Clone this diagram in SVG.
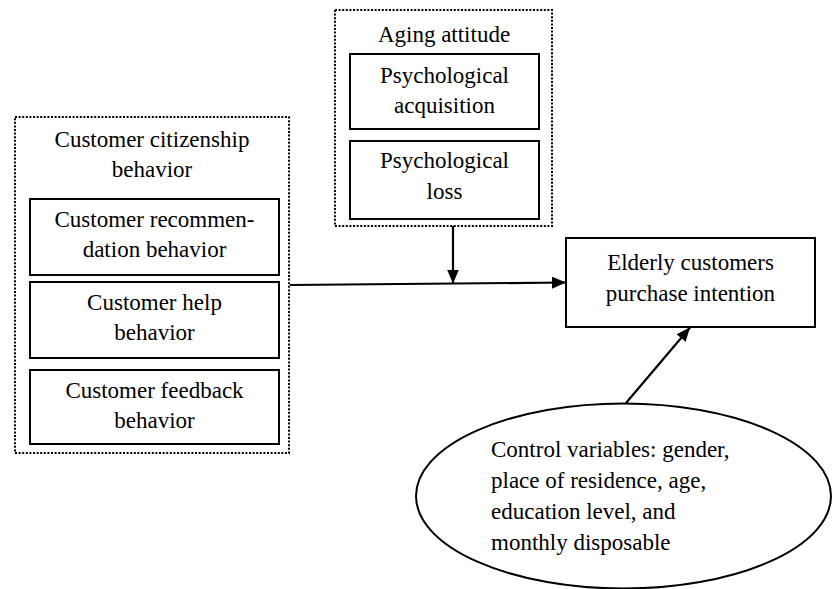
<svg xmlns="http://www.w3.org/2000/svg" width="832" height="589" viewBox="0 0 832 589">
<style>
text{font-family:"Liberation Serif","Times New Roman",serif;font-size:23px;fill:#000}
.c{text-anchor:middle}
.box{fill:#fff;stroke:#000;stroke-width:2}
.dot{fill:none;stroke:#000;stroke-width:2;stroke-dasharray:2 1.6}
.ln{stroke:#000;stroke-width:2.2;fill:none}
</style>
<defs>
<marker id="ah" viewBox="0 0 14 12" refX="14" refY="6" markerWidth="14" markerHeight="12" markerUnits="userSpaceOnUse" orient="auto">
<path d="M0,0 L14,6 L0,12 Z" fill="#000"/>
</marker>
</defs>
<rect width="832" height="589" fill="#fff"/>
<g id="ccb">
<rect class="dot" x="15" y="117" width="274" height="336"/>
<text class="c" x="152" y="147">Customer citizenship</text>
<text class="c" x="152" y="177">behavior</text>
</g>
<g id="recommend">
<rect class="box" x="30" y="199" width="249" height="76"/>
<text class="c" x="154.5" y="227">Customer recommen-</text>
<text class="c" x="154.5" y="257">dation behavior</text>
</g>
<g id="help">
<rect class="box" x="30" y="282" width="249" height="76"/>
<text class="c" x="154.5" y="310">Customer help</text>
<text class="c" x="154.5" y="340">behavior</text>
</g>
<g id="feedback">
<rect class="box" x="30" y="370" width="249" height="74"/>
<text class="c" x="154.5" y="398">Customer feedback</text>
<text class="c" x="154.5" y="428">behavior</text>
</g>
<g id="aging">
<rect class="dot" x="335" y="10" width="217" height="216"/>
<text class="c" x="444" y="42">Aging attitude</text>
</g>
<g id="acq">
<rect class="box" x="350" y="54" width="189" height="75"/>
<text class="c" x="444.5" y="83">Psychological</text>
<text class="c" x="444.5" y="113">acquisition</text>
</g>
<g id="loss">
<rect class="box" x="350" y="141" width="189" height="78"/>
<text class="c" x="444.5" y="168">Psychological</text>
<text class="c" x="444.5" y="199">loss</text>
</g>
<g id="elderly">
<rect class="box" x="566" y="238" width="249" height="89"/>
<text class="c" x="690.5" y="270">Elderly customers</text>
<text class="c" x="690.5" y="301">purchase intention</text>
</g>
<g id="control">
<ellipse cx="623.5" cy="496" rx="207.5" ry="92.5" fill="#fff" stroke="#000" stroke-width="2"/>
<text x="491" y="457">Control variables: gender,</text>
<text x="491" y="488">place of residence, age,</text>
<text x="491" y="519">education level, and</text>
<text x="491" y="550">monthly disposable</text>
</g>
<g id="connectors">
<line class="ln" x1="290" y1="285" x2="566" y2="282.5" marker-end="url(#ah)"/>
<line class="ln" x1="453" y1="226" x2="453" y2="283.5" marker-end="url(#ah)"/>
<line class="ln" x1="626" y1="403" x2="690" y2="327.5" marker-end="url(#ah)"/>
</g>
</svg>
